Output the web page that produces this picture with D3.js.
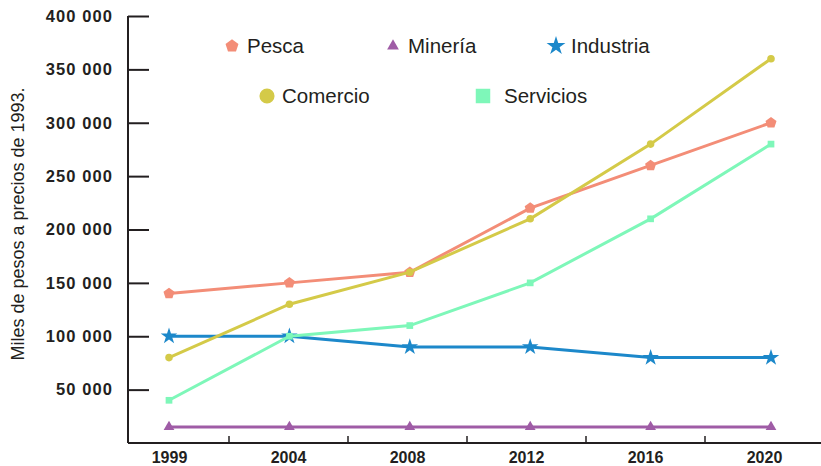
<!DOCTYPE html>
<html>
<head>
<meta charset="utf-8">
<script src="https://cdn.jsdelivr.net/npm/d3@7"></script>
<style>
  body { margin: 0; background: #fff; }
  text { font-family: "Liberation Sans", Arial, sans-serif; fill: #231f20; }
</style>
</head>
<body>
<script>
// Data
const years = ["1999", "2004", "2008", "2012", "2016", "2020"];
const pesca = [140000, 150000, 160000, 220000, 260000, 300000];
const mineria = [15000, 15000, 15000, 15000, 15000, 15000];
const industria = [100000, 100000, 90000, 90000, 80000, 80000];
const comercio = [80000, 130000, 160000, 210000, 280000, 360000];
const servicios = [40000, 100000, 110000, 150000, 210000, 280000];
const yTicks = [50000, 100000, 150000, 200000, 250000, 300000, 350000, 400000];
const yLabel = "Miles de pesos a precios de 1993.";

const width = 821, height = 466;

const svg = d3.select("body").append("svg")
    .attr("width", width)
    .attr("height", height);

// pentagon symbol
const symbolPentagon = {
    draw(context, size) {
        const r = Math.sqrt(size / 2.38);
        for (let i = 0; i < 5; i++) {
            const a = -Math.PI / 2 + i * 2 * Math.PI / 5;
            const x = r * Math.cos(a), y = r * Math.sin(a);
            if (i === 0) context.moveTo(x, y); else context.lineTo(x, y);
        }
        context.closePath();
    }
};

const series = [
    { name: "Pesca", values: pesca, color: "#f38d77", symbol: symbolPentagon, size: 80, legendSize: 110, lx: 232, ly: 46 },
    { name: "Minería", values: mineria, color: "#9f5ca6", symbol: d3.symbolTriangle, size: 50, legendSize: 60, lx: 393, ly: 46 },
    { name: "Industria", values: industria, color: "#1c88ca", symbol: d3.symbolStar, size: 85, legendSize: 110, lx: 556, ly: 46 },
    { name: "Comercio", values: comercio, color: "#d4ca48", symbol: d3.symbolCircle, size: 45, legendSize: 180, lx: 267, ly: 96 },
    { name: "Servicios", values: servicios, color: "#7ef7b9", symbol: d3.symbolSquare, size: 45, legendSize: 210, lx: 483, ly: 96 }
];

// Scales
const xBand = d3.scaleBand().domain(years).range([110, 824]);
const xPoint = d3.scalePoint().domain(years).range([169, 771]);
const y = d3.scaleLinear().domain([0, 400000]).range([443, 16]);

// Lines and markers
const line = d3.line()
    .x((d, i) => xPoint(years[i]))
    .y(d => y(d));

series.forEach(s => {
    svg.append("path")
        .datum(s.values)
        .attr("fill", "none")
        .attr("stroke", s.color)
        .attr("stroke-width", 3)
        .attr("d", line);

    svg.selectAll(null)
        .data(s.values)
        .join("path")
        .attr("transform", (d, i) => `translate(${xPoint(years[i])},${y(d)})`)
        .attr("fill", s.color)
        .attr("d", d3.symbol(s.symbol, s.size));
});

// Y axis
const yAxis = svg.append("g")
    .attr("transform", "translate(128,0)")
    .call(d3.axisLeft(y).tickValues(yTicks).tickSize(-21).tickPadding(15)
        .tickFormat(d => d3.format(",")(d).replace(/,/g, " ")));
yAxis.select(".domain").attr("d", `M0,${y(400000)}V${y(0)}`).attr("stroke", "#231f20").attr("stroke-width", 2);
yAxis.selectAll(".tick line").attr("stroke", "#231f20").attr("stroke-width", 2);
yAxis.selectAll(".tick text")
    .attr("x", -15)
    .style("font-size", "16.5px")
    .style("font-weight", "bold")
    .style("letter-spacing", "1.1px")
    .style("font-family", "'Liberation Sans', Arial, sans-serif")
    .attr("fill", "#231f20");

// X axis
const xAxis = svg.append("g")
    .attr("transform", "translate(0,443)")
    .call(d3.axisBottom(xBand).tickSize(0).tickPadding(9));
xAxis.select(".domain").attr("d", `M128,0H${width}`).attr("stroke", "#231f20").attr("stroke-width", 2);
xAxis.selectAll(".tick text")
    .style("font-size", "16px")
    .style("font-weight", "bold")
    .style("font-family", "'Liberation Sans', Arial, sans-serif")
    .attr("fill", "#231f20");

// separator ticks between years
xAxis.selectAll(".sep")
    .data(years.slice(1))
    .join("line")
    .attr("x1", d => xBand(d))
    .attr("x2", d => xBand(d))
    .attr("y1", 0)
    .attr("y2", -7)
    .attr("stroke", "#231f20")
    .attr("stroke-width", 1.5);

// Y label
svg.append("text")
    .attr("transform", "translate(24,224) rotate(-90)")
    .attr("text-anchor", "middle")
    .style("font-size", "18px")
    .text(yLabel);

// Legend
series.forEach(s => {
    svg.append("path")
        .attr("transform", `translate(${s.lx},${s.ly})`)
        .attr("fill", s.color)
        .attr("d", d3.symbol(s.symbol, s.legendSize));
    svg.append("text")
        .attr("x", s.lx + (s.name === "Servicios" ? 21 : 15))
        .attr("y", s.ly + 7)
        .style("font-size", "20.5px")
        .text(s.name);
});
</script>
</body>
</html>
